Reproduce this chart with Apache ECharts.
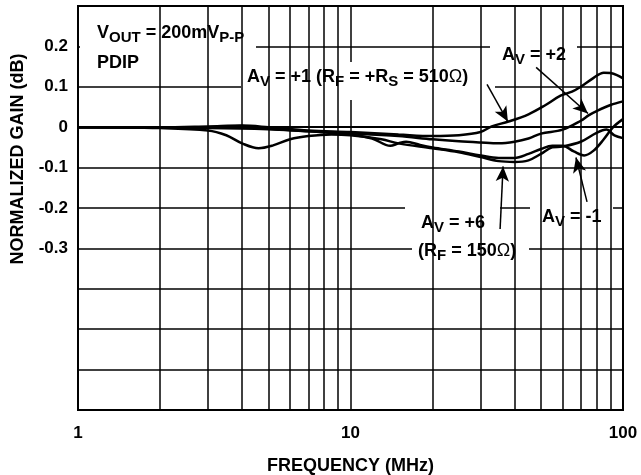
<!DOCTYPE html>
<html>
<head>
<meta charset="utf-8">
<script src="https://cdn.jsdelivr.net/npm/echarts@6/dist/echarts.min.js"></script>
<style>html,body{margin:0;padding:0;background:#fff}#c{width:641px;height:475px}</style>
</head>
<body>
<div id="c"></div>
<script>
// ---- data ----
const xTickLabels = ['1', '10', '100'];
const yTickLabels = ['0.2', '0.1', '0', '-0.1', '-0.2', '-0.3'];
const minorFreqs = [2, 3, 4, 5, 6, 7, 8, 9, 20, 30, 40, 50, 60, 70, 80, 90];

const freqP1 = [1, 2, 3, 4, 5, 7, 10, 15, 20, 25, 30, 33, 38, 45, 52, 59, 65, 70, 78, 85, 90, 95, 100];
const gainP1 = [0, 0, 0.002, 0.004, 0, -0.008, -0.012, -0.018, -0.022, -0.02, -0.012, 0.002, 0.014, 0.032, 0.055, 0.078, 0.088, 0.1, 0.122, 0.135, 0.134, 0.129, 0.121];

const freqP2 = [1, 3, 5, 7, 10, 15, 20, 25, 30, 35, 40, 45, 50, 60, 70, 75, 80, 90, 100];
const gainP2 = [0, -0.002, -0.005, -0.01, -0.015, -0.022, -0.03, -0.035, -0.038, -0.04, -0.036, -0.028, -0.016, -0.006, 0.016, 0.03, 0.04, 0.055, 0.064];

const freqP6 = [1, 2, 3, 3.5, 4, 4.6, 5.2, 6, 7, 8.5, 10, 13, 15, 20, 25, 30, 35, 40, 45, 50, 55, 60, 70, 80, 87, 93, 100];
const gainP6 = [0, -0.002, -0.008, -0.02, -0.04, -0.052, -0.045, -0.03, -0.022, -0.018, -0.02, -0.03, -0.04, -0.052, -0.062, -0.074, -0.084, -0.086, -0.082, -0.066, -0.05, -0.048, -0.036, -0.014, -0.006, -0.02, -0.027];

const freqM1 = [1, 3, 4, 5, 7, 10, 12, 14, 15, 16, 18, 20, 25, 30, 35, 40, 45, 50, 55, 60, 66, 72, 78, 85, 92, 100];
const gainM1 = [0, 0, 0.003, -0.004, -0.01, -0.018, -0.028, -0.046, -0.04, -0.036, -0.044, -0.05, -0.06, -0.07, -0.076, -0.076, -0.066, -0.054, -0.046, -0.046, -0.06, -0.07, -0.058, -0.03, 0, 0.02];

// ---- helpers ----
const zip = (xs, ys) => xs.map((x, i) => [x, ys[i]]);
const FONT = '"Liberation Sans", Arial, sans-serif';
const black = '#000';
const lineSeries = (name, xs, ys, extra) => Object.assign({
  name, type: 'line', data: zip(xs, ys), smooth: 0.35, showSymbol: false, symbol: 'none',
  lineStyle: { color: black, width: 2.5 }, z: 3, silent: true, animation: false
}, extra || {});
const arrow = (a, b) => [{ coord: a }, { coord: b }];

const rich = {
  n: { fontFamily: FONT, fontWeight: 'bold', fontSize: 18, color: black },
  s: { fontFamily: FONT, fontWeight: 'bold', fontSize: 15, color: black, padding: [9, 0, 0, 0] },
  o: { fontFamily: FONT, fontWeight: 'normal', fontSize: 18, color: black }
};
const txt = (x, y, text) => ({
  type: 'text', x, y, z: 20,
  style: { text, rich, fill: black, verticalAlign: 'middle', align: 'left', font: 'bold 18px ' + FONT }
});
const box = (x, y, w, h) => ({ type: 'rect', z: 1, shape: { x, y, width: w, height: h }, style: { fill: '#fff' } });

const chart = echarts.init(document.getElementById('c'), null, { renderer: 'canvas' });
chart.setOption({
  animation: false,
  backgroundColor: '#fff',
  grid: { left: 78, right: 18, top: 6, bottom: 65, containLabel: false, outerBoundsMode: 'none',
    show: true, borderColor: black, borderWidth: 2, backgroundColor: 'transparent' },
  xAxis: {
    type: 'log', logBase: 10, min: 1, max: 100,
    name: 'FREQUENCY (MHz)', nameLocation: 'middle', nameGap: 47,
    nameTextStyle: { fontFamily: FONT, fontWeight: 'bold', fontSize: 18, color: black },
    axisLine: { show: true, lineStyle: { color: black, width: 2 } },
    axisTick: { show: false },
    axisLabel: { fontFamily: FONT, fontWeight: 'bold', fontSize: 17, color: black, margin: 15,
      formatter: v => { const s = String(Math.round(v)); return xTickLabels.includes(s) ? s : ''; } },
    splitLine: { show: true, lineStyle: { color: black, width: 1.5 } }
  },
  yAxis: {
    type: 'value', min: -0.7, max: 0.3, interval: 0.1,
    axisLine: { show: true, lineStyle: { color: black, width: 2 } },
    axisTick: { show: false },
    axisLabel: { fontFamily: FONT, fontWeight: 'bold', fontSize: 17, color: black, margin: 10,
      formatter: v => { const r = Math.round(v * 10) / 10; const s = r === 0 ? '0' : r.toFixed(1); return yTickLabels.includes(s) ? s : ''; } },
    splitLine: { show: true, lineStyle: { color: black, width: 1.5 } }
  },
  graphic: [
    box(80, 8, 176, 76),
    box(241, 62, 254, 38),
    box(490, 40, 87, 46),
    box(405, 202, 95, 38),
    box(412, 238, 117, 46),
    box(530, 196, 83, 40),
    txt(97, 33, '{n|V}{s|OUT}{n| = 200mV}{s|P-P}'),
    txt(97, 63, '{n|PDIP}'),
    txt(247, 77, '{n|A}{s|V}{n| = +1 (R}{s|F}{n| = +R}{s|S}{n| = 510}{o|Ω}{n|)}'),
    txt(502, 55, '{n|A}{s|V}{n| = +2}'),
    txt(421, 223, '{n|A}{s|V}{n| = +6}'),
    txt(418, 251, '{n|(R}{s|F}{n| = 150}{o|Ω}{n|)}'),
    txt(542, 217, '{n|A}{s|V}{n| = -1}'),
    { type: 'text', z: 20, x: 18, y: 159, rotation: Math.PI / 2,
      style: { text: 'NORMALIZED GAIN (dB)', font: 'bold 18px ' + FONT, fill: black, align: 'center', verticalAlign: 'middle' } }
  ],
  series: [
    { type: 'line', data: [[1, 0]], symbol: 'none', z: 0, silent: true, lineStyle: { opacity: 0 },
      markLine: { silent: true, symbol: 'none', label: { show: false }, animation: false,
        lineStyle: { color: black, width: 1.5, type: 'solid' },
        data: minorFreqs.map(f => ({ xAxis: f })) } },
    lineSeries('AV=+1', freqP1, gainP1, {
      markLine: { silent: true, symbol: ['none', 'arrow'], symbolSize: [10, 15], label: { show: false }, animation: false,
        lineStyle: { color: black, width: 1.5, type: 'solid' },
        data: [
          arrow([31.7, 0.106], [37.8, 0.014]),
          arrow([48, 0.148], [74.4, 0.034]),
          arrow([35.4, -0.252], [36.3, -0.097]),
          arrow([73.8, -0.185], [67.2, -0.075])
        ] } }),
    lineSeries('AV=+2', freqP2, gainP2),
    lineSeries('AV=+6', freqP6, gainP6),
    lineSeries('AV=-1', freqM1, gainM1)
  ]
});
</script>
</body>
</html>
